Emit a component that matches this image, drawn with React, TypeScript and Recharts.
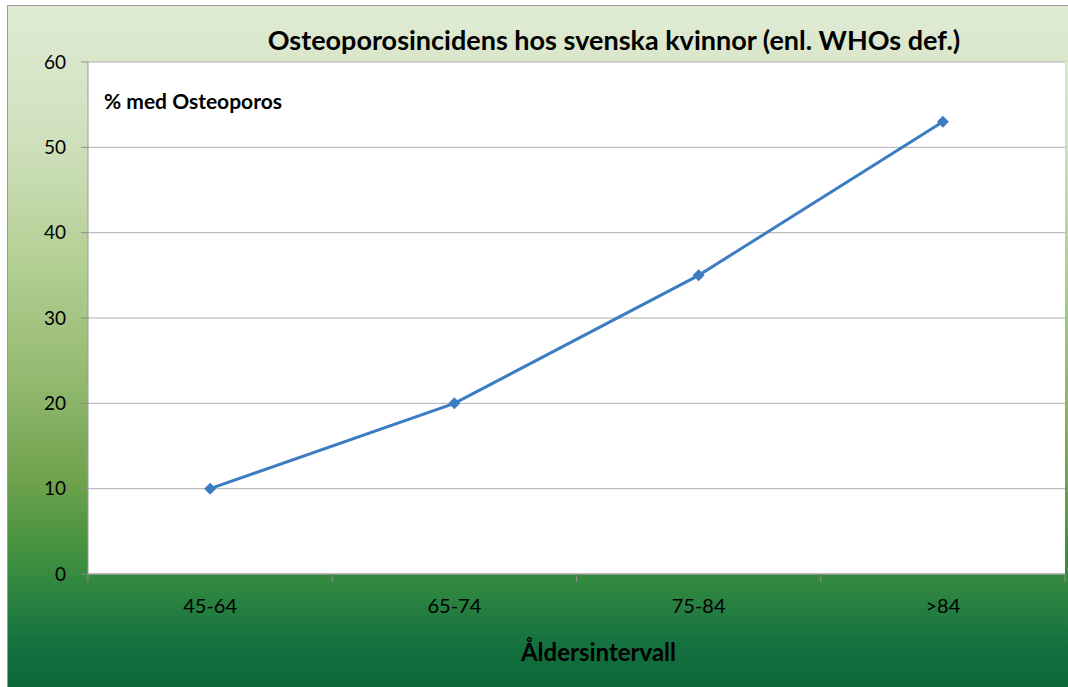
import React from 'react';
import { LineChart, Line, XAxis, YAxis, CartesianGrid, Customized } from 'recharts';

const categories = ['45-64', '65-74', '75-84', '>84'];
const values = [10, 20, 35, 53];
const yTicks = [0, 10, 20, 30, 40, 50, 60];
const title = 'Osteoporosincidens hos svenska kvinnor (enl. WHOs def.)';
const yTitle = '% med Osteoporos';
const xTitle = 'Åldersintervall';

const data = categories.map((c, i) => ({ name: c, value: values[i] }));

const FONT = 'Lato, "Open Sans", sans-serif';
const W = 1062;
const H = 683;

const Diamond = (props: any) => {
  const { cx, cy } = props;
  if (cx == null || cy == null) return null;
  const r = 6;
  return (
    <polygon
      points={`${cx},${cy - r} ${cx + r},${cy} ${cx},${cy + r} ${cx - r},${cy}`}
      fill="#3c7dc2"
    />
  );
};

const XTick = (props: any) => {
  const { x, y, payload, index, visibleTicksCount } = props;
  const off = payload && payload.offset ? payload.offset : 0;
  const axisY = y - 0;
  return (
    <g>
      <line x1={x - off} y1={axisY - 8} x2={x - off} y2={axisY} stroke="#8c8c8c" strokeWidth={1} />
      {index === (visibleTicksCount ?? categories.length) - 1 && (
        <line x1={x + off} y1={axisY - 8} x2={x + off} y2={axisY} stroke="#8c8c8c" strokeWidth={1} />
      )}
      <text x={x} y={axisY + 31} textAnchor="middle" fontFamily={FONT} fontSize={20} fill="#000">
        {payload.value}
      </text>
    </g>
  );
};

const Titles = () => (
  <g>
    <text x={606} y={44} textAnchor="middle" fontFamily={FONT} fontSize={27} fontWeight="bold" fill="#000">
      {title}
    </text>
    <text x={96} y={103} textAnchor="start" fontFamily={FONT} fontSize={21} fontWeight="bold" fill="#000">
      {yTitle}
    </text>
  </g>
);

export default function App() {
  return (
    <div
      style={{
        position: 'absolute',
        left: 7,
        top: 5,
        width: W,
        height: H,
        boxSizing: 'border-box',
        border: '1px solid #9a9a9a',
        background:
          'linear-gradient(to bottom, #e0ebd4 0%, #cfe0bc 20%, #b3cf93 38%, #93b96f 55%, #6ea24c 70%, #43913f 80%, #2d8540 86%, #157040 94%, #0d6838 100%)',
      }}
    >
      <LineChart
        width={W - 2}
        height={H - 2}
        data={data}
        margin={{ top: 56, right: 3, left: 0, bottom: 0 }}
      >
        <CartesianGrid vertical={false} stroke="#b0b0b0" fill="#ffffff" fillOpacity={1} />
        <XAxis
          dataKey="name"
          scale="band"
          height={113}
          axisLine={{ stroke: '#9a9a9a' }}
          tickLine={false}
          tick={<XTick />}
          interval={0}
          label={{
            value: xTitle,
            position: 'insideTop',
            offset: 70,
            dx: 22,
            fontFamily: FONT,
            fontSize: 24,
            fontWeight: 'bold',
            fill: '#000',
          }}
        />
        <YAxis
          width={80}
          domain={[0, 60]}
          ticks={yTicks}
          interval={0}
          axisLine={{ stroke: '#9a9a9a' }}
          tickLine={{ stroke: '#8c8c8c' }}
          tickSize={7}
          tickMargin={15}
          tick={{ fontFamily: FONT, fontSize: 19, fill: '#000' }}
        />
        <Line
          type="linear"
          dataKey="value"
          stroke="#3c7dc2"
          strokeWidth={3}
          dot={<Diamond />}
          activeDot={false}
          isAnimationActive={false}
        />
        <Customized component={Titles} />
      </LineChart>
    </div>
  );
}
